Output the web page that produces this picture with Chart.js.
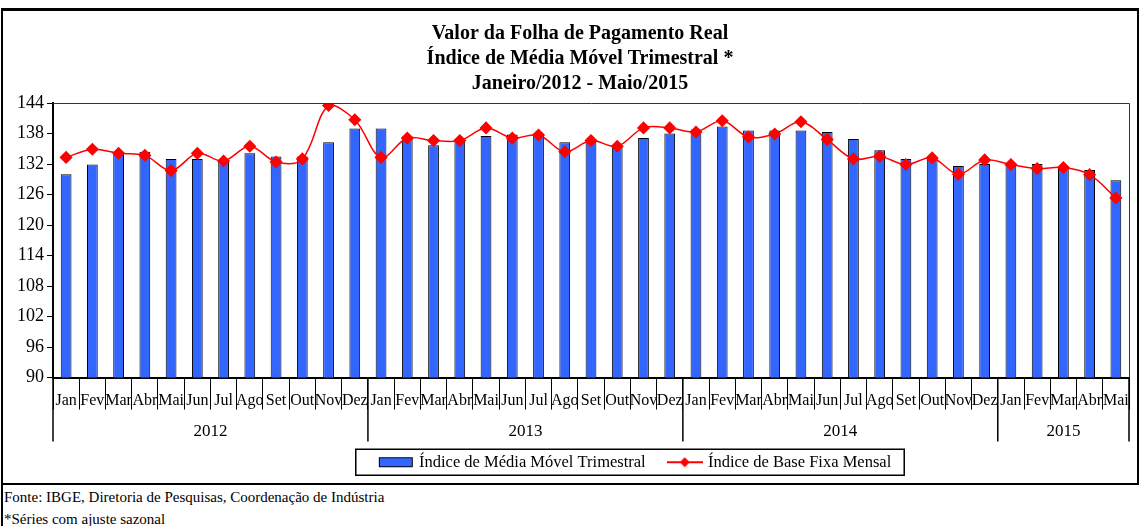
<!DOCTYPE html>
<html lang="pt">
<head>
<meta charset="UTF-8">
<title>Valor da Folha de Pagamento Real</title>
<script src="https://cdn.jsdelivr.net/npm/chart.js@4.4.1/dist/chart.umd.min.js"></script>
<style>
    body {
        margin: 0;
        background: #fff;
        font-family: 'Liberation Serif', serif;
    }

    .frame {
        position: absolute;
        left: 1px;
        top: 8px;
        width: 1138px;
        height: 477px;
        border: 2px solid #000;
        border-top-width: 3px;
        box-sizing: border-box;
    }

    .chart-box {
        position: absolute;
        left: 0;
        top: 0;
        width: 1134px;
        height: 472px;
    }

    .notes {
        position: absolute;
        left: 1px;
        top: 485px;
        width: 1140px;
        height: 41px;
        border-left: 2px solid #000;
        box-sizing: border-box;
        padding: 1px 0 0 1px;
        font-size: 15px;
        line-height: 22px;
        overflow: hidden;
    }
</style>
</head>
<body>

<div class="frame">
    <div class="chart-box"><canvas id="folhaChart"></canvas></div>
</div>
<div class="notes">
    Fonte: IBGE, Diretoria de Pesquisas, Coordenação de Indústria<br>
    *Séries com ajuste sazonal
</div>

<script>
    // dados
    const monthNames = ['Jan', 'Fev', 'Mar', 'Abr', 'Mai', 'Jun', 'Jul', 'Ago', 'Set', 'Out', 'Nov', 'Dez'];
    const years = ['2012', '2013', '2014', '2015'];
    const monthsPerYear = [12, 12, 12, 5];

    const mediaMovel = [
        130.0, 131.9, 134.3, 134.4, 133.0, 133.0, 132.8, 134.1, 133.5, 133.5, 136.3, 139.0,
        139.0, 137.2, 135.7, 136.8, 137.5, 137.8, 138.0, 136.3, 136.4, 135.4, 137.1, 138.0,
        138.8, 139.4, 138.6, 138.6, 138.6, 138.3, 136.9, 134.7, 133.0, 133.1, 131.6, 132.0,
        131.8, 132.0, 131.3, 130.8, 128.8
    ];
    const baseFixa = [
        133.3, 134.9, 134.1, 133.7, 130.7, 134.1, 132.6, 135.5, 132.4, 133.0, 143.5, 140.7,
        133.3, 137.1, 136.6, 136.6, 139.1, 137.1, 137.7, 134.4, 136.6, 135.5, 139.1, 139.1,
        138.3, 140.5, 137.3, 137.9, 140.3, 136.8, 133.0, 133.5, 131.9, 133.2, 130.0, 132.8,
        131.9, 131.1, 131.3, 129.9, 125.3
    ];
    const yMin = 90, yMax = 144, yStep = 6;

    const labels = [];
    monthsPerYear.forEach(n => {
        for (let i = 0; i < n; i++) labels.push(monthNames[i]);
    });

    const FONT = "'Liberation Serif', 'Times New Roman', serif";

    // icones da legenda
    function legendIcon(kind) {
        const c = document.createElement('canvas');
        c.width = 36;
        c.height = 12;
        const g = c.getContext('2d');
        if (kind === 'bar') {
            g.fillStyle = '#3366FF';
            g.fillRect(1, 1.5, 34, 9);
            g.strokeStyle = '#000';
            g.lineWidth = 1;
            g.strokeRect(1.5, 1.5, 33, 9);
        } else {
            g.strokeStyle = '#FF0000';
            g.lineWidth = 2;
            g.beginPath();
            g.moveTo(0, 6);
            g.lineTo(36, 6);
            g.stroke();
            g.fillStyle = '#FF0000';
            g.beginPath();
            g.moveTo(18, 1);
            g.lineTo(23, 6);
            g.lineTo(18, 11);
            g.lineTo(13, 6);
            g.closePath();
            g.fill();
        }
        return c;
    }
    const icons = [legendIcon('bar'), legendIcon('line')];

    // moldura do gráfico, eixo dos anos e caixa da legenda
    const decorPlugin = {
        id: 'decor',
        afterLayout(chart) {
            chart.titleBlock.left += 14;
            chart.titleBlock.right += 14;
            chart.legend.left += 70;
            chart.legend.right += 70;
        },
        afterDraw(chart) {
            const { ctx, chartArea: a } = chart;
            const x = chart.scales.x;
            ctx.save();

            ctx.strokeStyle = '#333';
            ctx.lineWidth = 1;
            ctx.beginPath();
            ctx.moveTo(a.left, a.top + 0.5);
            ctx.lineTo(a.right + 0.5, a.top + 0.5);
            ctx.lineTo(a.right + 0.5, a.bottom);
            ctx.stroke();

            ctx.strokeStyle = '#000';
            ctx.lineWidth = 1.5;
            ctx.fillStyle = '#000';
            ctx.font = '17px ' + FONT;
            ctx.textAlign = 'center';
            ctx.textBaseline = 'middle';
            let start = 0;
            monthsPerYear.forEach((n, i) => {
                const xl = x.getPixelForValue(start - 0.5);
                const xr = x.getPixelForValue(start + n - 0.5);
                ctx.beginPath();
                ctx.moveTo(xl, x.top);
                ctx.lineTo(xl, x.top + 64);
                if (i === monthsPerYear.length - 1) {
                    ctx.moveTo(xr, x.top);
                    ctx.lineTo(xr, x.top + 64);
                }
                ctx.stroke();
                ctx.fillText(years[i], (xl + xr) / 2, x.top + 54);
                start += n;
            });

            const hb = chart.legend.legendHitBoxes;
            if (hb && hb.length) {
                const first = hb[0], last = hb[hb.length - 1];
                const cy = first.top + first.height / 2;
                ctx.lineWidth = 1.5;
                ctx.strokeRect(first.left - 25, cy - 13, last.left + last.width - first.left + 38, 26);
            }
            ctx.restore();
        }
    };

    const ctx = document.getElementById('folhaChart').getContext('2d');
    const folhaChart = new Chart(ctx, {
        type: 'bar',
        data: {
            labels: labels,
            datasets: [{
                type: 'bar',
                label: 'Índice de Média Móvel Trimestral',
                data: mediaMovel,
                backgroundColor: '#3366FF',
                borderColor: '#000',
                borderWidth: 1,
                barPercentage: 0.41,
                categoryPercentage: 1.0,
                order: 1
            }, {
                type: 'line',
                label: 'Índice de Base Fixa Mensal',
                data: baseFixa,
                borderColor: '#FF0000',
                borderWidth: 1.5,
                tension: 0.35,
                pointStyle: 'rectRot',
                pointRadius: 5.5,
                pointBackgroundColor: '#FF0000',
                pointBorderColor: '#FF0000',
                order: 0
            }]
        },
        options: {
            responsive: true,
            maintainAspectRatio: false,
            animation: false,
            layout: {
                padding: { left: 0, right: 8, top: 0, bottom: 2.5 }
            },
            scales: {
                x: {
                    offset: true,
                    grid: { offset: true, drawOnChartArea: false, tickLength: 32, color: '#000', lineWidth: 1 },
                    border: { color: '#000', width: 2 },
                    ticks: { autoSkip: false, maxRotation: 0, padding: -18, color: '#000', font: { family: FONT, size: 16 } },
                    afterFit(scale) { scale.height = 52.5; }
                },
                y: {
                    min: yMin,
                    max: yMax,
                    ticks: { stepSize: yStep, padding: 3, color: '#000', font: { family: FONT, size: 18 } },
                    grid: { drawOnChartArea: false, tickLength: 6, color: '#000', lineWidth: 1 },
                    border: { color: '#000', width: 2 },
                    afterFit(scale) { scale.width = 50; }
                }
            },
            plugins: {
                title: {
                    display: true,
                    text: ['Valor da Folha de Pagamento Real', 'Índice de Média Móvel Trimestral *', 'Janeiro/2012 - Maio/2015'],
                    color: '#000',
                    font: { family: FONT, size: 20, weight: 'bold', lineHeight: 1.25 },
                    padding: { top: 10, bottom: 7 }
                },
                legend: {
                    position: 'bottom',
                    labels: {
                        usePointStyle: true,
                        pointStyleWidth: 30,
                        boxHeight: 12,
                        padding: 24,
                        color: '#000',
                        font: { family: FONT, size: 16.5 },
                        generateLabels: chart => chart.data.datasets.map((ds, i) => ({
                            text: ds.label,
                            pointStyle: icons[i],
                            datasetIndex: i,
                            hidden: false,
                            lineWidth: 0,
                            strokeStyle: 'transparent',
                            fillStyle: 'transparent',
                            fontColor: '#000'
                        }))
                    }
                },
                tooltip: { enabled: false }
            }
        },
        plugins: [decorPlugin]
    });
</script>
</body>
</html>
